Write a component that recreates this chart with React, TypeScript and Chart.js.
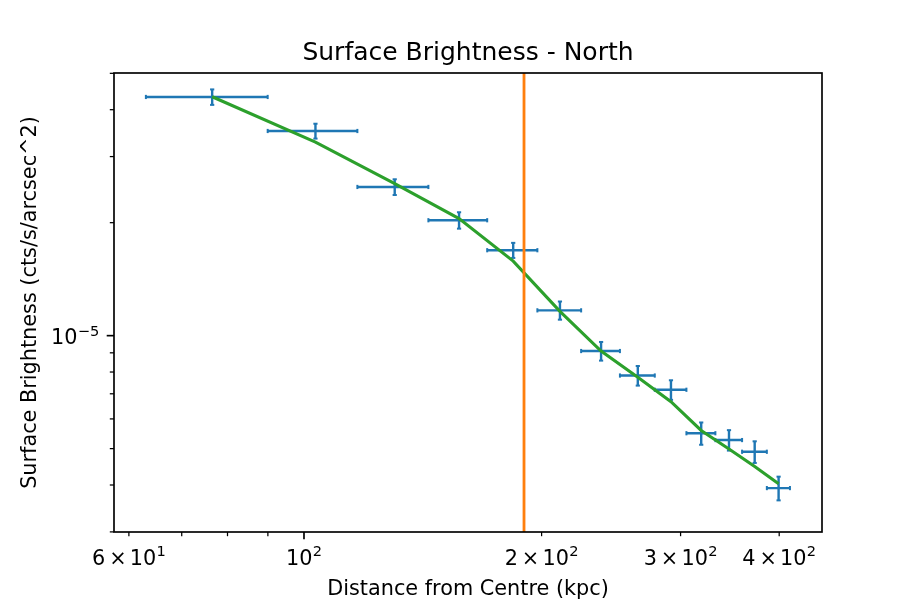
import { useEffect, useRef } from "react";
import { Chart, registerables } from "chart.js";

Chart.register(...registerables);

// ---- data ----
const binCentres = [76.5, 103.4, 130.3, 157.2, 184.1, 211.0, 237.9, 264.8, 291.7, 318.6, 345.5, 372.4, 399.3];
const binHalfWidths = [13.45, 13.45, 13.45, 13.45, 13.45, 13.45, 13.45, 13.45, 13.45, 13.45, 13.45, 13.45, 13.45];
const brightness = [4.325e-5, 3.51e-5, 2.49e-5, 2.03e-5, 1.689e-5, 1.168e-5, 9.1e-6, 7.83e-6, 7.175e-6, 5.495e-6, 5.27e-6, 4.905e-6, 3.925e-6];
const brightnessErr = [2.05e-6, 1.6e-6, 1.2e-6, 1.02e-6, 7.8e-7, 6.5e-7, 5.2e-7, 4.7e-7, 4.3e-7, 3.75e-7, 3.3e-7, 3.25e-7, 2.85e-7];
const modelBrightness = [4.33e-5, 3.28e-5, 2.54e-5, 2.05e-5, 1.58e-5, 1.161e-5, 9.1e-6, 7.75e-6, 6.67e-6, 5.59e-6, 4.99e-6, 4.48e-6, 4.03e-6];
const edgeRadius = [190];

// ---- axes ----
const X_MIN = 57.45;
const X_MAX = 453.2;
const Y_MIN = 2.998e-6;
const Y_MAX = 5.01e-5;

const xMajorTicks = [100];
const xMinorTicks = [60, 70, 80, 90, 200, 300, 400];
const xLabelValues = [60, 100, 200, 300, 400];
const xLabelCoefs = ["6", "", "2", "3", "4"];
const xLabelExps = ["1", "2", "2", "2", "2"];

const yMajorTicks = [1e-5];
const yMinorTicks = [3e-6, 4e-6, 5e-6, 6e-6, 7e-6, 8e-6, 9e-6, 2e-5, 3e-5, 4e-5, 5e-5];
const yLabelValues = [1e-5];
const yLabelExps = ["\u22125"];

const TITLE = "Surface Brightness - North";
const X_TITLE = "Distance from Centre (kpc)";
const Y_TITLE = "Surface Brightness (cts/s/arcsec^2)";

const FONT = '"DejaVu Sans", sans-serif';
const BASE = 20.8;
const SUP = 14.6;
const RAISE = 8.3;

function drawMathLabel(
  ctx: CanvasRenderingContext2D,
  coef: string,
  exp: string,
  ax: number,
  baseline: number,
  align: "center" | "right"
) {
  type Seg = { t: string; size: number; gap: number; raise: number };
  const segs: Seg[] = [];
  if (coef) {
    segs.push({ t: coef, size: BASE, gap: 0, raise: 0 });
    segs.push({ t: "\u00d7", size: BASE, gap: 4.0, raise: 0 });
    segs.push({ t: "10", size: BASE, gap: 3.2, raise: 0 });
  } else {
    segs.push({ t: "10", size: BASE, gap: 0, raise: 0 });
  }
  segs.push({ t: exp, size: SUP, gap: 0.3, raise: RAISE });
  let total = 0;
  const widths: number[] = [];
  segs.forEach((s) => {
    ctx.font = `${s.size}px ${FONT}`;
    const w = ctx.measureText(s.t).width;
    widths.push(w);
    total += s.gap + w;
  });
  let x = align === "center" ? ax - total / 2 : ax - total;
  ctx.textAlign = "left";
  ctx.textBaseline = "alphabetic";
  segs.forEach((s, i) => {
    x += s.gap;
    ctx.font = `${s.size}px ${FONT}`;
    ctx.fillText(s.t, x, baseline - s.raise);
    x += widths[i];
  });
}

const mplAxes = {
  id: "mplAxes",
  afterDraw(chart: any) {
    const ctx: CanvasRenderingContext2D = chart.ctx;
    const a = chart.chartArea;
    const xs = chart.scales.x;
    const ys = chart.scales.y;
    ctx.save();
    ctx.strokeStyle = "#000";
    ctx.fillStyle = "#000";
    const seg = (x1: number, y1: number, x2: number, y2: number, w: number) => {
      ctx.lineWidth = w;
      ctx.beginPath();
      ctx.moveTo(x1, y1);
      ctx.lineTo(x2, y2);
      ctx.stroke();
    };
    const inX = (v: number) => v >= X_MIN && v <= X_MAX;
    const inY = (v: number) => v >= Y_MIN && v <= Y_MAX;
    xMajorTicks.filter(inX).forEach((v) => {
      const p = xs.getPixelForValue(v);
      seg(p, a.bottom, p, a.bottom + 7.3, 1.67);
    });
    xMinorTicks.filter(inX).forEach((v) => {
      const p = xs.getPixelForValue(v);
      seg(p, a.bottom, p, a.bottom + 4.2, 1.25);
    });
    yMajorTicks.filter(inY).forEach((v) => {
      const p = ys.getPixelForValue(v);
      seg(a.left, p, a.left - 7.3, p, 1.67);
    });
    yMinorTicks.filter(inY).forEach((v) => {
      const p = ys.getPixelForValue(v);
      seg(a.left, p, a.left - 4.2, p, 1.25);
    });
    // frame
    ctx.lineWidth = 1.67;
    ctx.strokeRect(a.left, a.top, a.right - a.left, a.bottom - a.top);

    // tick labels
    xLabelValues.forEach((v, i) => {
      const p = xs.getPixelForValue(v);
      drawMathLabel(ctx, xLabelCoefs[i], xLabelExps[i], p, a.bottom + 32.7, "center");
    });
    yLabelValues.forEach((v, i) => {
      const p = ys.getPixelForValue(v);
      drawMathLabel(ctx, "", yLabelExps[i], a.left - 14.8, p + 8.2, "right");
    });

    // axis titles
    ctx.textAlign = "center";
    ctx.textBaseline = "alphabetic";
    ctx.font = `${BASE}px ${FONT}`;
    ctx.fillText(X_TITLE, (a.left + a.right) / 2, 595);
    ctx.save();
    ctx.translate(36, (a.top + a.bottom) / 2);
    ctx.rotate(-Math.PI / 2);
    ctx.fillText(Y_TITLE, 0, 0);
    ctx.restore();

    // title
    ctx.font = `25px ${FONT}`;
    ctx.fillText(TITLE, (a.left + a.right) / 2, 59.5);
    ctx.restore();
  },
};

export default function App() {
  const ref = useRef<HTMLCanvasElement | null>(null);
  useEffect(() => {
    if (!ref.current) return;
    const xErrData: { x: number; y: number | null }[] = [];
    const yErrData: { x: number; y: number | null }[] = [];
    binCentres.forEach((c, i) => {
      const h = binHalfWidths[i];
      const v = brightness[i];
      const e = brightnessErr[i];
      xErrData.push({ x: c - h, y: v }, { x: c + h, y: v }, { x: c + h, y: null });
      yErrData.push({ x: c, y: v - e }, { x: c, y: v + e }, { x: c, y: null });
    });
    const modelData = binCentres.map((c, i) => ({ x: c, y: modelBrightness[i] }));
    const edgeData = [
      { x: edgeRadius[0], y: Y_MIN },
      { x: edgeRadius[0], y: Y_MAX },
    ];
    const chart = new Chart(ref.current, {
      type: "line",
      data: {
        datasets: [
          {
            label: "edge",
            data: edgeData,
            borderColor: "#ff7f0e",
            borderWidth: 2.8,
            pointRadius: 0,
            order: 0,
          },
          {
            label: "model",
            data: modelData,
            borderColor: "#2ca02c",
            borderWidth: 3.1,
            pointRadius: 0,
            tension: 0,
            order: 1,
          },
          {
            label: "xerr",
            data: xErrData,
            borderColor: "#1f77b4",
            borderWidth: 2.4,
            pointStyle: "line",
            pointRotation: 90,
            pointRadius: 2.1,
            pointBorderWidth: 2,
            pointBorderColor: "#1f77b4",
            pointBackgroundColor: "#1f77b4",
            spanGaps: false,
            order: 2,
          },
          {
            label: "yerr",
            data: yErrData,
            borderColor: "#1f77b4",
            borderWidth: 2.4,
            pointStyle: "line",
            pointRotation: 0,
            pointRadius: 2.1,
            pointBorderWidth: 2,
            pointBorderColor: "#1f77b4",
            pointBackgroundColor: "#1f77b4",
            spanGaps: false,
            order: 3,
          },
        ] as any,
      },
      options: {
        animation: false,
        responsive: false,
        events: [],
        layout: { padding: { left: 114, right: 91, top: 73, bottom: 77 } },
        plugins: {
          legend: { display: false },
          title: { display: false },
          tooltip: { enabled: false },
        },
        scales: {
          x: { type: "logarithmic", min: X_MIN, max: X_MAX, display: false },
          y: { type: "logarithmic", min: Y_MIN, max: Y_MAX, display: false },
        },
      },
      plugins: [mplAxes],
    });
    return () => chart.destroy();
  }, []);
  return (
    <div style={{ position: "fixed", left: 0, top: 0, width: 913, height: 609, background: "#fff" }}>
      <canvas ref={ref} width={913} height={609} style={{ display: "block", width: 913, height: 609 }} />
    </div>
  );
}
